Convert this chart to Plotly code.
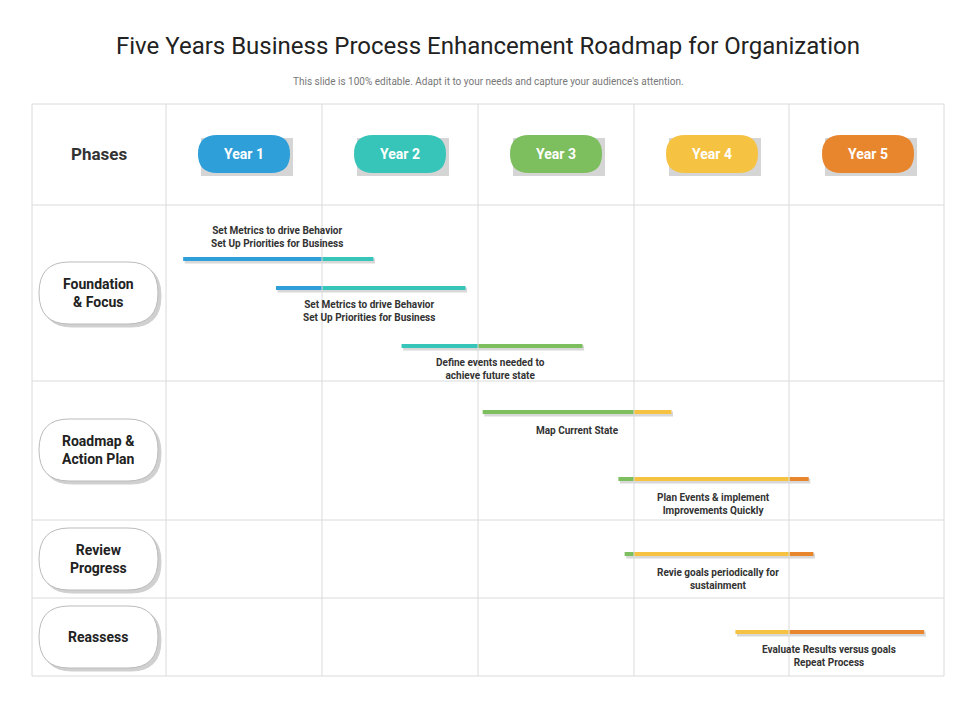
import plotly.graph_objects as go

years = ["Year 1", "Year 2", "Year 3", "Year 4", "Year 5"]
year_colors = ["#2E9FD8", "#36C5B8", "#7DBE5E", "#F5C242", "#E8862E"]
phases = ["Foundation<br>& Focus", "Roadmap &<br>Action Plan", "Review<br>Progress", "Reassess"]
phase_y = [285, 442, 551, 629]
row_edges = [96, 197, 373, 512, 590, 668]
# tasks: start year, end year, row y, label, label position
task_start = [0.11, 0.705, 1.51, 2.03, 2.9, 2.94, 3.65]
task_end = [1.33, 1.92, 2.67, 3.24, 4.12, 4.15, 4.86]
task_y = [251, 280, 338, 404, 471, 546, 624]
task_labels = ["Set Metrics to drive Behavior<br>Set Up Priorities for Business",
               "Set Metrics to drive Behavior<br>Set Up Priorities for Business",
               "Define events needed to<br>achieve future state",
               "Map Current State",
               "Plan Events & implement<br>Improvements Quickly",
               "Revie goals periodically for<br>sustainment",
               "Evaluate Results versus goals<br>Repeat Process"]
label_x = [0.71, 1.3, 2.08, 2.64, 3.51, 3.54, 4.25]
label_y = [229, 303, 361, 422, 496, 571, 648]

PX = 156.0
X0 = -158 / PX
X1 = (960 - 158) / PX
def px(p):
    return (p - 158) / PX

fig = go.Figure()
shapes = []
grid = "#DADADA"
# outer grid
for e in row_edges:
    shapes.append(dict(type="line", x0=px(24), x1=px(936), y0=e, y1=e, line=dict(color=grid, width=1)))
for c in [24, 158, 314, 470, 626, 781, 936]:
    shapes.append(dict(type="line", x0=px(c), x1=px(c), y0=96, y1=668, line=dict(color=grid, width=1)))

# year pills
for i, (name, col) in enumerate(zip(years, year_colors)):
    cx = i + 0.5
    w = 46 / PX
    shapes.append(dict(type="rect", x0=cx - w + 3 / PX, x1=cx + w + 3 / PX, y0=130, y1=168,
                       fillcolor="#D5D5D5", line=dict(width=0), layer="below"))
    shapes.append(dict(type="path", path=f"M {cx-w+19/PX},127 L {cx+w-19/PX},127 Q {cx+w},127 {cx+w},146 Q {cx+w},165 {cx+w-19/PX},165 L {cx-w+19/PX},165 Q {cx-w},165 {cx-w},146 Q {cx-w},127 {cx-w+19/PX},127 Z",
                       fillcolor=col, line=dict(width=0)))
    fig.add_annotation(x=cx, y=146, text=f"<b>{name}</b>", showarrow=False,
                       font=dict(family="Roboto", size=14, color="white"))

fig.add_annotation(x=px(91), y=146, text="<b>Phases</b>", showarrow=False,
                   font=dict(family="Roboto", size=17, color="#333"))

# phase pills
for name, cy in zip(phases, phase_y):
    l, r = px(31), px(150)
    h = 31
    rr = 30 / PX
    for off, fc, lc in [(3, "#D0D0D0", "#D0D0D0"), (0, "white", "#BBBBBB")]:
        o = off / PX
        shapes.append(dict(type="path",
                           path=f"M {l+rr+o},{cy-h+off} L {r-rr+o},{cy-h+off} Q {r+o},{cy-h+off} {r+o},{cy+off} Q {r+o},{cy+h+off} {r-rr+o},{cy+h+off} L {l+rr+o},{cy+h+off} Q {l+o},{cy+h+off} {l+o},{cy+off} Q {l+o},{cy-h+off} {l+rr+o},{cy-h+off} Z",
                           fillcolor=fc, line=dict(color=lc, width=1)))
    fig.add_annotation(x=px(90), y=cy, text=f"<b>{name}</b>", showarrow=False,
                       font=dict(family="Roboto", size=14, color="#222"))

# task bars split by year
for s, e, y in zip(task_start, task_end, task_y):
    fig.add_trace(go.Scatter(x=[s + 0.01, e + 0.01], y=[y + 2, y + 2], mode="lines",
                             line=dict(color="#D8D8D8", width=5), hoverinfo="skip", showlegend=False))
    k = int(s)
    while k < e:
        a, b = max(s, k), min(e, k + 1)
        fig.add_trace(go.Scatter(x=[a, b], y=[y, y], mode="lines",
                                 line=dict(color=year_colors[k], width=4), hoverinfo="skip", showlegend=False))
        k += 1

for t, x, y in zip(task_labels, label_x, label_y):
    fig.add_annotation(x=x, y=y, text=f"<b>{t}</b>", showarrow=False,
                       font=dict(family="Roboto", size=10, color="#333"))

fig.add_annotation(x=px(480), y=38, text="Five Years Business Process Enhancement Roadmap for Organization",
                   showarrow=False, font=dict(family="Roboto", size=24, color="#222"))
fig.add_annotation(x=px(480), y=73, text="This slide is 100% editable. Adapt it to your needs and capture your audience's attention.",
                   showarrow=False, font=dict(family="Roboto", size=10, color="#777"))

fig.update_layout(width=960, height=720, margin=dict(l=0, r=0, t=0, b=0),
                  paper_bgcolor="white", plot_bgcolor="white", shapes=shapes,
                  xaxis=dict(range=[X0, X1], visible=False, fixedrange=True),
                  yaxis=dict(range=[720, 0], visible=False, fixedrange=True))
fig.write_html("out.html")
